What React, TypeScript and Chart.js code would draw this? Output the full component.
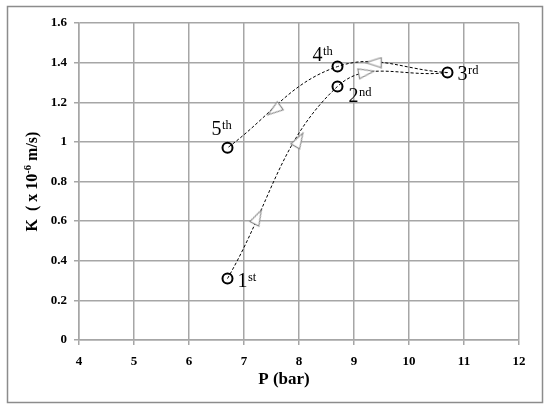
import React, { useEffect, useRef } from 'react';
import { Chart, registerables } from 'chart.js';

Chart.register(...registerables);

// ---- data ----
const stepNames = ['1', '2', '3', '4', '5'];
const stepSuffix = ['st', 'nd', 'rd', 'th', 'th'];
const pressureBar = [6.7, 8.7, 10.7, 8.7, 6.7];
const permeability = [0.31, 1.28, 1.35, 1.38, 0.97];
const loadingSteps = [0, 1, 2];
const unloadingSteps = [2, 3, 4];
const arrowP = [7.25, 8.0, 9.22, 9.36, 7.55];
const arrowK = [0.62, 1.01, 1.35, 1.4, 1.16];
const arrowAngle = [-63, -60, -10, 180, 144];
const yTickLabels = ['0', '0.2', '0.4', '0.6', '0.8', '1', '1.2', '1.4', '1.6'];
const xTickLabels = ['4', '5', '6', '7', '8', '9', '10', '11', '12'];
const xTitle = 'P (bar)';
const yTitleParts = ['K  ( x 10', '-6', ' m/s)'];

const SERIF = '"Liberation Serif", "DejaVu Serif", serif';
const GRID = '#a6a6a6';
const LABEL_OFFSETS = [
  [10, 8],
  [11, 16],
  [10, 7],
  [-25, -6],
  [-16, -13],
];

function makeArrow(): HTMLCanvasElement {
  const c = document.createElement('canvas');
  c.width = 18;
  c.height = 12;
  const g = c.getContext('2d')!;
  g.beginPath();
  g.moveTo(17, 6);
  g.lineTo(1.5, 1);
  g.lineTo(1.5, 11);
  g.closePath();
  g.fillStyle = '#ffffff';
  g.fill();
  g.strokeStyle = '#8a8a8a';
  g.lineWidth = 1.2;
  g.stroke();
  return c;
}

const framePlugin = {
  id: 'frame',
  beforeDraw(chart: any) {
    const ctx = chart.ctx;
    ctx.save();
    ctx.fillStyle = '#ffffff';
    ctx.fillRect(0, 0, chart.width, chart.height);
    ctx.strokeStyle = '#8c8c8c';
    ctx.lineWidth = 1.5;
    ctx.strokeRect(7.5, 6.5, 535, 396);
    ctx.restore();
  },
  afterDraw(chart: any) {
    const ctx = chart.ctx;
    const xs = chart.scales.x;
    const ys = chart.scales.y;
    ctx.save();
    ctx.fillStyle = '#000';
    ctx.textBaseline = 'alphabetic';
    ctx.textAlign = 'left';
    stepNames.forEach((n, i) => {
      const px = xs.getPixelForValue(pressureBar[i]);
      const py = ys.getPixelForValue(permeability[i]);
      const [dx, dy] = LABEL_OFFSETS[i];
      ctx.font = `20px ${SERIF}`;
      ctx.fillText(n, px + dx, py + dy);
      const w = ctx.measureText(n).width;
      ctx.font = `12.5px ${SERIF}`;
      ctx.fillText(stepSuffix[i], px + dx + w + 0.5, py + dy - 6);
    });
    // x axis title
    ctx.textBaseline = 'middle';
    ctx.textAlign = 'center';
    ctx.font = `bold 17px ${SERIF}`;
    ctx.fillText(xTitle, 284, 380);
    // y axis title with superscript
    ctx.textAlign = 'left';
    const cy = (chart.chartArea.top + chart.chartArea.bottom) / 2;
    ctx.translate(33, cy);
    ctx.rotate(-Math.PI / 2);
    const [p1, p2, p3] = yTitleParts;
    ctx.font = `bold 16px ${SERIF}`;
    const w1 = ctx.measureText(p1).width;
    const w3 = ctx.measureText(p3).width;
    ctx.font = `bold 10.5px ${SERIF}`;
    const w2 = ctx.measureText(p2).width;
    const x0 = -(w1 + w2 + w3) / 2;
    ctx.font = `bold 16px ${SERIF}`;
    ctx.fillText(p1, x0, 0);
    ctx.font = `bold 10.5px ${SERIF}`;
    ctx.fillText(p2, x0 + w1, -5);
    ctx.font = `bold 16px ${SERIF}`;
    ctx.fillText(p3, x0 + w1 + w2, 0);
    ctx.restore();
  },
};

export default function App() {
  const ref = useRef<HTMLCanvasElement>(null);
  useEffect(() => {
    if (!ref.current) return;
    const arrow = makeArrow();
    const pts = (idx: number[]) => idx.map((i) => ({ x: pressureBar[i], y: permeability[i] }));
    const lineDs = (idx: number[]) => ({
      data: pts(idx),
      showLine: true,
      borderColor: '#000',
      borderWidth: 1,
      borderDash: [3, 2],
      tension: 0.4,
      pointRadius: 0,
      fill: false,
    });
    const chart = new Chart(ref.current, {
      type: 'scatter',
      data: {
        datasets: [
          {
            data: pressureBar.map((p, i) => ({ x: p, y: permeability[i] })),
            pointStyle: 'circle',
            pointRadius: 5,
            pointBorderWidth: 2,
            borderColor: '#000',
            backgroundColor: 'rgba(0,0,0,0)',
          },
          {
            data: arrowP.map((p, i) => ({ x: p, y: arrowK[i] })),
            pointStyle: arrow as any,
            rotation: (c: any) => arrowAngle[c.dataIndex],
            pointRadius: 8,
          } as any,
          lineDs(loadingSteps) as any,
          lineDs(unloadingSteps) as any,
        ],
      },
      options: {
        animation: false,
        responsive: false,
        events: [],
        layout: { padding: { top: 23, right: 31, left: 0, bottom: 0 } },
        plugins: { legend: { display: false }, tooltip: { enabled: false } },
        scales: {
          x: {
            type: 'linear',
            min: 4,
            max: 12,
            ticks: {
              stepSize: 1,
              color: '#000',
              padding: 9,
              font: { family: SERIF, size: 13, weight: 'bold' },
              callback: (_v: any, i: number) => xTickLabels[i],
            },
            grid: { color: GRID, lineWidth: 1.5, tickLength: 5 },
            border: { color: GRID, width: 1.5 },
            afterFit: (s: any) => {
              s.height = 72;
            },
          },
          y: {
            type: 'linear',
            min: 0,
            max: 1.6,
            ticks: {
              stepSize: 0.2,
              color: '#000',
              padding: 7,
              font: { family: SERIF, size: 13, weight: 'bold' },
              callback: (_v: any, i: number) => yTickLabels[i],
            },
            grid: { color: GRID, lineWidth: 1.5, tickLength: 5 },
            border: { color: GRID, width: 1.5 },
            afterFit: (s: any) => {
              s.width = 79;
            },
          },
        },
      },
      plugins: [framePlugin],
    } as any);
    return () => chart.destroy();
  }, []);
  return (
    <div style={{ position: 'absolute', left: 0, top: 0, width: 550, height: 412 }}>
      <canvas ref={ref} width={550} height={412} />
    </div>
  );
}
